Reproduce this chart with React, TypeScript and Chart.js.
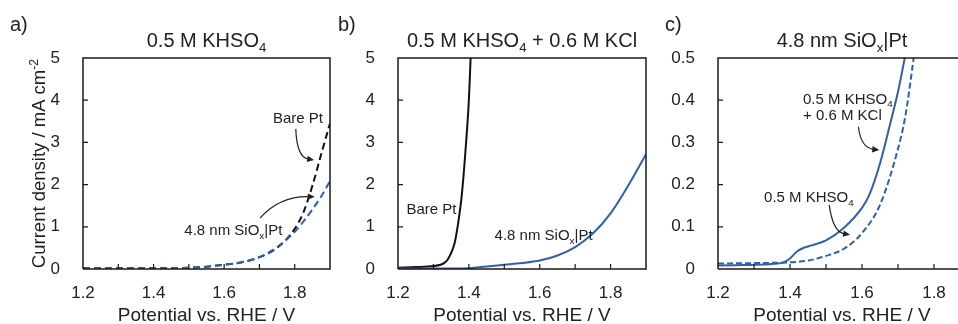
import React, { useEffect, useRef } from 'react';
import { Chart, registerables } from 'chart.js';

Chart.register(...registerables);

const FONT = '"Liberation Sans", Arial, Helvetica, sans-serif';
const BLUE = '#2f5fae';
const BLACK = '#111111';
const TEXT = '#222222';

// ---- Panel a: 0.5 M KHSO4 (dashed curves) ----
const aPotential = [1.2, 1.25, 1.3, 1.35, 1.4, 1.45, 1.5, 1.55, 1.6, 1.65, 1.7, 1.75, 1.8, 1.825, 1.85, 1.875, 1.9];
const aBarePt = [0.015, 0.015, 0.015, 0.015, 0.015, 0.02, 0.03, 0.055, 0.1, 0.16, 0.28, 0.5, 0.95, 1.35, 1.97, 2.72, 3.45];
const aSiOxPt = [0.015, 0.015, 0.015, 0.015, 0.015, 0.02, 0.03, 0.055, 0.1, 0.16, 0.28, 0.52, 0.88, 1.13, 1.41, 1.72, 2.08];

// ---- Panel b: 0.5 M KHSO4 + 0.6 M KCl (solid curves) ----
const bBarePotential = [1.2, 1.25, 1.3, 1.32, 1.33, 1.34, 1.35, 1.36, 1.37, 1.38, 1.39, 1.4, 1.405, 1.41];
const bBarePt = [0.03, 0.045, 0.07, 0.1, 0.14, 0.22, 0.38, 0.62, 1.1, 1.75, 2.75, 4.0, 5.0, 6.0];
const bSiOxPotential = [1.2, 1.3, 1.4, 1.45, 1.5, 1.55, 1.6, 1.65, 1.7, 1.75, 1.8, 1.85, 1.9];
const bSiOxPt = [0.01, 0.01, 0.02, 0.06, 0.1, 0.14, 0.2, 0.32, 0.52, 0.84, 1.32, 1.98, 2.72];

// ---- Panel c: 4.8 nm SiOx|Pt ----
const cKClPotential = [1.2, 1.25, 1.3, 1.35, 1.38, 1.4, 1.42, 1.44, 1.46, 1.5, 1.55, 1.6, 1.62, 1.65, 1.68, 1.7, 1.72, 1.74];
const cKCl = [0.008, 0.009, 0.01, 0.012, 0.015, 0.025, 0.042, 0.051, 0.056, 0.068, 0.098, 0.145, 0.175, 0.25, 0.35, 0.42, 0.505, 0.59];
const cKHSO4Potential = [1.2, 1.3, 1.4, 1.45, 1.5, 1.55, 1.6, 1.65, 1.7, 1.72, 1.75, 1.77];
const cKHSO4 = [0.013, 0.014, 0.016, 0.02, 0.031, 0.048, 0.085, 0.152, 0.285, 0.36, 0.54, 0.66];

// ---- Ticks ----
const xMajorTicks = [1.2, 1.4, 1.6, 1.8];
const xMinorTicks = [1.3, 1.4, 1.5, 1.6, 1.7, 1.8];
const yTicksAB = [0, 1, 2, 3, 4, 5];
const yMinorAB = [1, 2, 3, 4];
const yTicksC = [0, 0.1, 0.2, 0.3, 0.4, 0.5];
const yMinorC = [0.1, 0.2, 0.3, 0.4];

type Seg = { t: string; s?: 'sub' | 'sup' };

const segKHSO4: Seg[] = [{ t: '0.5 M KHSO' }, { t: '4', s: 'sub' }];
const segKHSO4KCl: Seg[] = [{ t: '0.5 M KHSO' }, { t: '4', s: 'sub' }, { t: ' + 0.6 M KCl' }];
const segSiOx: Seg[] = [{ t: '4.8 nm SiO' }, { t: 'x', s: 'sub' }, { t: '|Pt' }];
const segBare: Seg[] = [{ t: 'Bare Pt' }];
const segKCl: Seg[] = [{ t: '+ 0.6 M KCl' }];
const segYTitle: Seg[] = [{ t: 'Current density / mA cm' }, { t: '-2', s: 'sup' }];
const segXTitle: Seg[] = [{ t: 'Potential vs. RHE / V' }];

function segFont(size: number, s?: string) {
  return `${s ? size * 0.66 : size}px ${FONT}`;
}
function richWidth(ctx: CanvasRenderingContext2D, segs: Seg[], size: number) {
  let w = 0;
  for (const g of segs) {
    ctx.font = segFont(size, g.s);
    w += ctx.measureText(g.t).width;
  }
  return w;
}
function drawRich(ctx: CanvasRenderingContext2D, segs: Seg[], x: number, y: number, size: number, align: string) {
  const w = richWidth(ctx, segs, size);
  let cx = align === 'center' ? x - w / 2 : align === 'right' ? x - w : x;
  ctx.textAlign = 'left';
  ctx.textBaseline = 'alphabetic';
  for (const g of segs) {
    ctx.font = segFont(size, g.s);
    const dy = g.s === 'sub' ? size * 0.24 : g.s === 'sup' ? -size * 0.4 : 0;
    ctx.fillText(g.t, cx, y + dy);
    cx += ctx.measureText(g.t).width;
  }
}

type Note = { segs: Seg[]; x: number; y: number; align: string };
type Arrow = { from: number[]; ctrl: number[]; to: number[] };
type Spec = {
  left: number;
  width: number;
  yAxisWidth: number;
  padRight: number;
  xMax: number;
  yMax: number;
  yTicks: number[];
  yMinor: number[];
  yFmt: (v: number) => string;
  datasets: any[];
  letter: string;
  letterX: number;
  title: Seg[];
  centerX?: number;
  yTitle: boolean;
  rightBorder: boolean;
  notes: Note[];
  arrows: Arrow[];
};

function series(xs: number[], ys: number[], color: string, dash: number[]) {
  return {
    data: xs.map((x, i) => ({ x, y: ys[i] })),
    borderColor: color,
    borderWidth: 2,
    borderDash: dash,
    pointRadius: 0,
    fill: false,
    cubicInterpolationMode: 'monotone',
  };
}

function decorPlugin(spec: Spec) {
  return {
    id: 'decor',
    afterDraw(chart: any) {
      const ctx: CanvasRenderingContext2D = chart.ctx;
      const a = chart.chartArea;
      const xs = chart.scales.x;
      const ys = chart.scales.y;
      const px = (v: number) => xs.getPixelForValue(v);
      const py = (v: number) => ys.getPixelForValue(v);
      ctx.save();
      // frame
      ctx.strokeStyle = '#1a1a1a';
      ctx.lineWidth = 1.5;
      ctx.beginPath();
      ctx.moveTo(a.left, a.bottom);
      ctx.lineTo(a.left, a.top);
      ctx.lineTo(spec.rightBorder ? a.right : a.right + 5, a.top);
      if (spec.rightBorder) {
        ctx.lineTo(a.right, a.bottom);
        ctx.lineTo(a.left, a.bottom);
      } else {
        ctx.moveTo(a.left, a.bottom);
        ctx.lineTo(a.right + 5, a.bottom);
      }
      ctx.stroke();
      // inner ticks
      ctx.lineWidth = 1.2;
      ctx.beginPath();
      for (const v of xMinorTicks) {
        const x = px(v);
        ctx.moveTo(x, a.bottom);
        ctx.lineTo(x, a.bottom - 5);
      }
      for (const v of spec.yMinor) {
        const y = py(v);
        ctx.moveTo(a.left, y);
        ctx.lineTo(a.left + 5, y);
      }
      ctx.stroke();

      const cx = spec.centerX !== undefined ? spec.centerX : (a.left + a.right) / 2;
      ctx.fillStyle = TEXT;
      // panel letter
      drawRich(ctx, [{ t: spec.letter }], spec.letterX, 31, 20, 'left');
      // title
      drawRich(ctx, spec.title, cx, 47, 20, 'center');
      // x title
      drawRich(ctx, segXTitle, cx, 320.5, 19, 'center');
      // y title
      if (spec.yTitle) {
        ctx.save();
        ctx.translate(45, (a.top + a.bottom) / 2 + 0);
        ctx.rotate(-Math.PI / 2);
        drawRich(ctx, segYTitle, 0, 0, 18.5, 'center');
        ctx.restore();
      }
      // notes
      for (const n of spec.notes) {
        drawRich(ctx, n.segs, px(n.x), py(n.y), 15, n.align);
      }
      // arrows
      ctx.strokeStyle = TEXT;
      ctx.lineWidth = 1.2;
      for (const ar of spec.arrows) {
        const x0 = px(ar.from[0]), y0 = py(ar.from[1]);
        const x1 = px(ar.ctrl[0]), y1 = py(ar.ctrl[1]);
        const x2 = px(ar.to[0]), y2 = py(ar.to[1]);
        const ang = Math.atan2(y2 - y1, x2 - x1);
        const L = 7, W = 3.2;
        const bx = x2 - L * Math.cos(ang), by = y2 - L * Math.sin(ang);
        ctx.beginPath();
        ctx.moveTo(x0, y0);
        ctx.quadraticCurveTo(x1, y1, bx + 1 * Math.cos(ang), by + 1 * Math.sin(ang));
        ctx.stroke();
        ctx.beginPath();
        ctx.moveTo(x2, y2);
        ctx.lineTo(bx + W * Math.sin(ang), by - W * Math.cos(ang));
        ctx.lineTo(bx - W * Math.sin(ang), by + W * Math.cos(ang));
        ctx.closePath();
        ctx.fill();
      }
      ctx.restore();
    },
  };
}

function makeConfig(spec: Spec): any {
  const tickFont = { family: FONT, size: 17 };
  return {
    type: 'line',
    data: { datasets: spec.datasets },
    options: {
      animation: false,
      responsive: false,
      events: [],
      layout: { padding: { left: 0, right: spec.padRight, top: 58, bottom: 0 } },
      plugins: { legend: { display: false }, tooltip: { enabled: false }, title: { display: false } },
      elements: { point: { radius: 0 } },
      scales: {
        x: {
          type: 'linear',
          min: 1.2,
          max: spec.xMax,
          grid: { display: false },
          border: { display: false },
          ticks: {
            autoSkip: false,
            maxRotation: 0,
            padding: 6,
            color: TEXT,
            font: tickFont,
            callback: (v: number) => Number(v).toFixed(1),
          },
          afterBuildTicks: (s: any) => {
            s.ticks = xMajorTicks.map((v) => ({ value: v }));
          },
          afterFit: (s: any) => {
            s.height = 55;
          },
        },
        y: {
          type: 'linear',
          min: 0,
          max: spec.yMax,
          grid: { display: false },
          border: { display: false },
          ticks: {
            padding: 15,
            color: TEXT,
            font: tickFont,
            callback: (v: number) => spec.yFmt(Number(v)),
          },
          afterBuildTicks: (s: any) => {
            s.ticks = spec.yTicks.map((v) => ({ value: v }));
          },
          afterFit: (s: any) => {
            s.width = spec.yAxisWidth;
          },
        },
      },
    },
    plugins: [decorPlugin(spec)],
  };
}

const specs: Spec[] = [
  {
    left: 0,
    width: 335,
    yAxisWidth: 83,
    padRight: 5,
    xMax: 1.9,
    yMax: 5,
    yTicks: yTicksAB,
    yMinor: yMinorAB,
    yFmt: (v) => String(Math.round(v)),
    datasets: [series(aPotential, aSiOxPt, BLUE, [7, 4]), series(aPotential, aBarePt, BLACK, [7, 4])],
    letter: 'a)',
    letterX: 10,
    title: segKHSO4,
    yTitle: true,
    rightBorder: true,
    notes: [
      { segs: segBare, x: 1.809, y: 3.46, align: 'center' },
      { segs: segSiOx, x: 1.626, y: 0.806, align: 'center' },
    ],
    arrows: [
      { from: [1.803, 3.32], ctrl: [1.806, 2.65], to: [1.855, 2.58] },
      { from: [1.702, 1.21], ctrl: [1.758, 1.73], to: [1.857, 1.71] },
    ],
  },
  {
    left: 335,
    width: 325,
    yAxisWidth: 63,
    padRight: 14,
    xMax: 1.9,
    yMax: 5,
    yTicks: yTicksAB,
    yMinor: yMinorAB,
    yFmt: (v) => String(Math.round(v)),
    datasets: [series(bSiOxPotential, bSiOxPt, BLUE, []), series(bBarePotential, bBarePt, BLACK, [])],
    letter: 'b)',
    letterX: 3,
    title: segKHSO4KCl,
    yTitle: false,
    rightBorder: true,
    notes: [
      { segs: segBare, x: 1.2946, y: 1.3, align: 'center' },
      { segs: segSiOx, x: 1.611, y: 0.687, align: 'center' },
    ],
    arrows: [],
  },
  {
    left: 660,
    width: 298,
    yAxisWidth: 58,
    padRight: 0,
    xMax: 1.8667,
    yMax: 0.5,
    yTicks: yTicksC,
    yMinor: yMinorC,
    yFmt: (v) => (v === 0 ? '0' : v.toFixed(1)),
    datasets: [series(cKHSO4Potential, cKHSO4, BLUE, [6, 3]), series(cKClPotential, cKCl, BLUE, [])],
    letter: 'c)',
    letterX: 5,
    title: segSiOx,
    centerX: 182,
    yTitle: false,
    rightBorder: false,
    notes: [
      { segs: segKHSO4, x: 1.436, y: 0.392, align: 'left' },
      { segs: segKCl, x: 1.436, y: 0.353, align: 'left' },
      { segs: segKHSO4, x: 1.328, y: 0.159, align: 'left' },
    ],
    arrows: [
      { from: [1.59, 0.337], ctrl: [1.597, 0.287], to: [1.648, 0.282] },
      { from: [1.509, 0.152], ctrl: [1.519, 0.088], to: [1.567, 0.081] },
    ],
  },
];

function Panel({ spec }: { spec: Spec }) {
  const ref = useRef<HTMLCanvasElement | null>(null);
  useEffect(() => {
    if (!ref.current) return;
    const chart = new Chart(ref.current, makeConfig(spec));
    return () => chart.destroy();
  }, [spec]);
  return (
    <canvas
      ref={ref}
      width={spec.width}
      height={324}
      style={{ position: 'absolute', left: spec.left, top: 0, width: spec.width, height: 324, display: 'block' }}
    />
  );
}

export default function App() {
  return (
    <div style={{ position: 'fixed', left: 0, top: 0, width: 958, height: 324, background: '#ffffff', overflow: 'hidden' }}>
      {specs.map((s, i) => (
        <Panel key={i} spec={s} />
      ))}
    </div>
  );
}
